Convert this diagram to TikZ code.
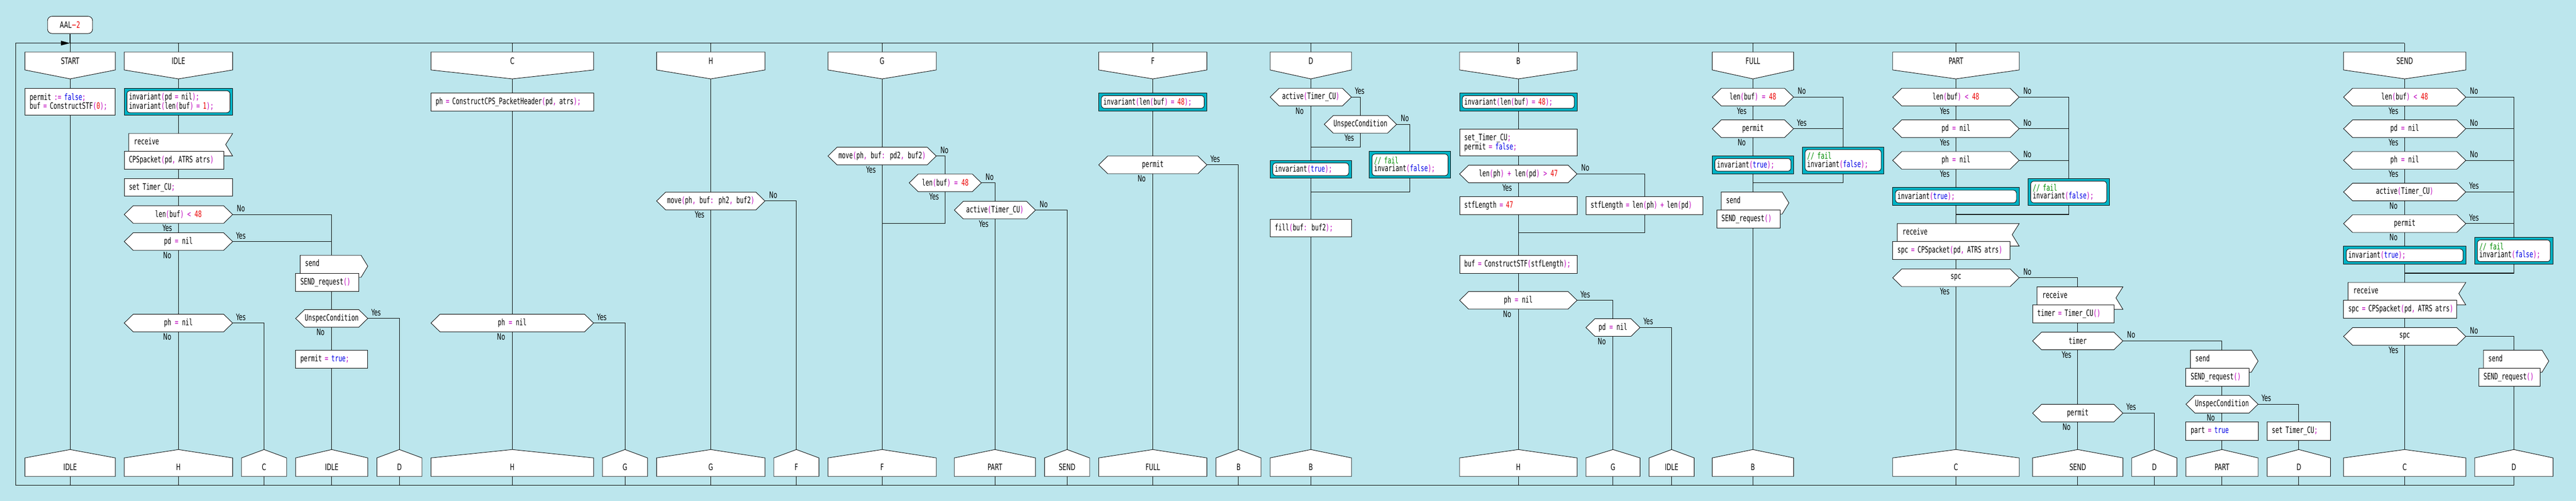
\documentclass[tikz,border=0pt]{standalone}
\usepackage{fontspec}
\usetikzlibrary{calc,arrows.meta}
\newfontfamily\dkcode[FakeStretch=0.677]{DejaVu Sans Mono}
\newfontfamily\dksans[FakeStretch=0.677]{DejaVu Sans}
\definecolor{drakonbg}{RGB}{188,230,237}
\definecolor{invfill}{RGB}{0,180,198}
\definecolor{opc}{RGB}{190,0,190}
\definecolor{kwc}{RGB}{0,0,230}
\definecolor{numc}{RGB}{235,0,0}
\definecolor{cmtc}{RGB}{0,140,0}
\newcommand\opr[1]{\textcolor{opc}{#1}}
\newcommand\kw[1]{\textcolor{kwc}{#1}}
\newcommand\nmb[1]{\textcolor{numc}{#1}}
\newcommand\cmt[1]{\textcolor{cmtc}{#1}}
\pgfdeclarelayer{bg}
\pgfdeclarelayer{wires}
\pgfsetlayers{bg,wires,main}

\tikzset{
  shp/.style={draw=black, fill=white, line width=1pt},
  wire/.style={draw=black, line width=1.2pt},
  codetxt/.style={font=\dkcode\fontsize{19.5}{16.3}\selectfont, inner sep=0pt, text=black},
  lbltxt/.style={font=\dksans\fontsize{19.5}{23}\selectfont, inner sep=0pt, text=black},
  boxtxt/.style={codetxt, inner xsep=10.5pt, align=left},
  flowlbl/.style={lbltxt, anchor=base},
}

% header: name, left, right, text
\newcommand\hdr[4]{%
  \pgfmathsetmacro\dkx{((#2)+(#3))/2}%
  \pgfmathsetmacro\dkw{(#3)-(#2)}%
  \filldraw[shp] (#2,54.3) -- (#3,54.3) -- (#3,73) -- (\dkx,82.3) -- (#2,73) -- cycle;
  \node[lbltxt, minimum width=\dkw pt, minimum height=39.7pt] (#1) at (\dkx,63.65) {#4};}
% address at the foot of a branch
\newcommand\ftr[4]{%
  \pgfmathsetmacro\dkx{((#2)+(#3))/2}%
  \pgfmathsetmacro\dkw{(#3)-(#2)}%
  \filldraw[shp] (#2,477.7) -- (\dkx,469) -- (#3,477.7) -- (#3,497) -- (#2,497) -- cycle;
  \node[lbltxt, minimum width=\dkw pt, minimum height=41pt] (#1) at (\dkx,487.35) {#4};}
% action: name, left, right, top, bottom, text
\newcommand\act[6]{%
  \pgfmathsetmacro\dkx{((#2)+(#3))/2}%
  \pgfmathsetmacro\dky{((#4)+(#5))/2}%
  \pgfmathsetmacro\dkw{(#3)-(#2)}%
  \pgfmathsetmacro\dkt{(#3)-(#2)-21}%
  \pgfmathsetmacro\dkh{((#5)-(#4))*2.1237}%
  \node[shp, boxtxt, minimum width=\dkw pt, minimum height=\dkh pt, text width=\dkt pt] (#1) at (\dkx,\dky) {#6};}
% invariant box
\newcommand\inv[6]{%
  \filldraw[shp, fill=invfill] (#2,#4) rectangle (#3,#5);
  \filldraw[shp, rounded corners=7pt] ({(#2)+6},{(#4)+2.7}) rectangle ({(#3)-6},{(#5)-2.7});
  \pgfmathsetmacro\dkx{((#2)+(#3))/2}%
  \pgfmathsetmacro\dky{((#4)+(#5))/2}%
  \pgfmathsetmacro\dkw{(#3)-(#2)}%
  \pgfmathsetmacro\dkt{(#3)-(#2)-21}%
  \pgfmathsetmacro\dkh{((#5)-(#4))*2.1237}%
  \node[boxtxt, minimum width=\dkw pt, minimum height=\dkh pt, text width=\dkt pt] (#1) at (\dkx,\dky) {#6};}
% question: name, left, right, middle, text, label below, label right
\newcommand\quest[7]{%
  \pgfmathsetmacro\dkx{((#2)+(#3))/2}%
  \pgfmathsetmacro\dkw{(#3)-(#2)}%
  \pgfmathsetmacro\dka{(#2)+20}%
  \pgfmathsetmacro\dkb{(#3)-20}%
  \pgfmathsetmacro\dku{(#4)-9.2}%
  \pgfmathsetmacro\dkv{(#4)+9.2}%
  \filldraw[shp] (#2,#4) -- (\dka,\dku) -- (\dkb,\dku) -- (#3,#4) -- (\dkb,\dkv) -- (\dka,\dkv) -- cycle;
  \node[codetxt, minimum width=\dkw pt, minimum height=39.1pt] (#1) at (\dkx,#4) {#5};
  \node[flowlbl] (#1-d) at ($(#1.south)+(-24.8,8.3)$) {#6};
  \node[flowlbl] (#1-r) at ($(#1.east)+(18,-3)$) {#7};}
% receive: name, left, right, top, text
\newcommand\recv[5]{%
  \pgfmathsetmacro\dka{(#2)+10}%
  \pgfmathsetmacro\dkb{(#3)-15.5}%
  \pgfmathsetmacro\dku{(#4)+11.5}%
  \pgfmathsetmacro\dkv{(#4)+23.4}%
  \filldraw[shp] (\dka,#4) -- (#3,#4) -- (\dkb,\dku) -- (#3,\dkv) -- (\dka,\dkv) -- cycle;
  \node[codetxt, anchor=base west] (#1-h) at ({(#2)+21.4},{(#4)+11.7}) {receive};
  \act{#1}{#2}{(#3)-20}{(#4)+18.7}{(#4)+37.4}{#5}}
% send: name, left, tip, top, text
\newcommand\send[5]{%
  \pgfmathsetmacro\dka{(#2)+10}%
  \pgfmathsetmacro\dkb{(#3)-15}%
  \pgfmathsetmacro\dku{(#4)+11.4}%
  \pgfmathsetmacro\dkv{(#4)+23}%
  \filldraw[shp] (\dka,#4) -- (\dkb,#4) -- (#3,\dku) -- (\dkb,\dkv) -- (\dka,\dkv) -- cycle;
  \node[codetxt, anchor=base west] (#1-h) at ({(#2)+20.7},{(#4)+11.7}) {send};
  \act{#1}{#2}{(#3)-19.6}{(#4)+19}{(#4)+37.7}{#5}}

\begin{document}
\begin{tikzpicture}[x=1pt, y=-2.1237pt]
	\begin{pgfonlayer}{bg}
		\fill[drakonbg] (0,0) rectangle (5710,522.68);
	\end{pgfonlayer}
	\useasboundingbox (0,0) rectangle (5710,522.68);

	\coordinate (lt) at (35,45);
	\coordinate (lb) at (35,506.3);

	\node[shp, lbltxt, rounded corners=10pt, minimum width=100pt, minimum height=38.2pt] (aal) at (155.3,26) {AAL\nmb{−2}};

	% START
	\hdr{hStart}{55.3}{255.7}{START}
	\act{s1}{55.3}{255.7}{92}{120.3}{\mbox{permit \opr{:=} \kw{false}\opr{;}}\\\mbox{buf \opr{=} ConstructSTF\opr{(}\nmb{0}\opr{);}}}
	\ftr{eIdle1}{55.3}{255.7}{IDLE}

	% IDLE
	\hdr{hIdle}{275.3}{515.7}{IDLE}
	\inv{i1}{275.3}{515.7}{92}{120.3}{\mbox{invariant\opr{(}pd \opr{=} nil\opr{);}}\\\mbox{invariant\opr{(}len\opr{(}buf\opr{)} \opr{=} \nmb{1}\opr{);}}}
	\recv{r1}{275.3}{515.7}{139.3}{\mbox{CPSpacket\opr{(}pd\opr{,} ATRS atrs\opr{)}}}
	\act{a2}{275.3}{515.7}{186.3}{204.7}{\mbox{set Timer\_CU\opr{;}}}
	\quest{q1}{275.3}{515.7}{223.8}{len\opr{(}buf\opr{)} \opr{<} \nmb{48}}{Yes}{No}
	\quest{q2}{275.3}{515.7}{252}{pd \opr{=} nil}{No}{Yes}
	\quest{q3}{275.3}{515.7}{337}{ph \opr{=} nil}{No}{Yes}
	\send{o1}{655.3}{815.3}{266.3}{\mbox{SEND\_request\opr{()}}}
	\quest{q4}{655.3}{815.3}{332.2}{UnspecCondition}{No}{Yes}
	\act{a3}{655.3}{815.3}{365.3}{384}{\mbox{permit \opr{=} \kw{true}\opr{;}}}
	\ftr{eH2}{275.3}{515.7}{H}
	\ftr{eC2}{535.3}{635.3}{C}
	\ftr{eIdle2}{655.3}{815.3}{IDLE}
	\ftr{eD2}{835.3}{935.3}{D}

	% C
	\hdr{hC}{955.3}{1315.7}{C}
	\act{a4}{955.3}{1315.7}{97}{115.7}{\mbox{ph \opr{=} ConstructCPS\_PacketHeader\opr{(}pd\opr{,} atrs\opr{);}}}
	\quest{q5}{955.3}{1315.7}{337}{ph \opr{=} nil}{No}{Yes}
	\ftr{eH3}{955.3}{1315.7}{H}
	\ftr{eG3}{1335.3}{1435.3}{G}

	% H
	\hdr{hH}{1455.3}{1695.7}{H}
	\quest{q6}{1455.3}{1695.7}{209.7}{move\opr{(}ph\opr{,} buf\opr{:} ph2\opr{,} buf2\opr{)}}{Yes}{No}
	\ftr{eG4}{1455.3}{1695.7}{G}
	\ftr{eF4}{1715.3}{1815.3}{F}

	% G
	\hdr{hG}{1835.3}{2075.3}{G}
	\quest{q7}{1835.3}{2075.3}{162.8}{move\opr{(}ph\opr{,} buf\opr{:} pd2\opr{,} buf2\opr{)}}{Yes}{No}
	\quest{q8}{2015.3}{2175.3}{190.8}{len\opr{(}buf\opr{)} \opr{=} \nmb{48}}{Yes}{No}
	\quest{q9}{2115.3}{2295.3}{219.2}{active\opr{(}Timer\_CU\opr{)}}{Yes}{No}
	\ftr{eF5}{1835.3}{2075.3}{F}
	\ftr{ePart5}{2115.3}{2295.3}{PART}
	\ftr{eSend5}{2315.3}{2415.3}{SEND}

	% F
	\hdr{hF}{2435.3}{2675.3}{F}
	\inv{i2}{2435.3}{2675.3}{97}{115.7}{\mbox{invariant\opr{(}len\opr{(}buf\opr{)} \opr{=} \nmb{48}\opr{);}}}
	\quest{q10}{2435.3}{2675.3}{172}{permit}{No}{Yes}
	\ftr{eFull6}{2435.3}{2675.3}{FULL}
	\ftr{eB6}{2695.3}{2795.3}{B}

	% D
	\hdr{hD}{2815.3}{2995.7}{D}
	\quest{q11}{2815.3}{2995.7}{101.3}{active\opr{(}Timer\_CU\opr{)}}{No}{Yes}
	\quest{q12}{2935.3}{3095.7}{129.7}{UnspecCondition}{Yes}{No}
	\inv{i3}{2815.3}{2995.7}{167.3}{186}{\mbox{invariant\opr{(}\kw{true}\opr{);}}}
	\inv{f1}{3035.3}{3215.7}{158}{186}{\mbox{\cmt{// fail}}\\\mbox{invariant\opr{(}\kw{false}\opr{);}}}
	\act{a5}{2815.3}{2995.7}{228.7}{247.3}{\mbox{fill\opr{(}buf\opr{:} buf2\opr{);}}}
	\ftr{eB7}{2815.3}{2995.7}{B}

	% B
	\hdr{hB}{3235.3}{3495.7}{B}
	\inv{i4}{3235.3}{3495.7}{97}{115.7}{\mbox{invariant\opr{(}len\opr{(}buf\opr{)} \opr{=} \nmb{48}\opr{);}}}
	\act{a6}{3235.3}{3495.7}{134.7}{162.7}{\mbox{set\_Timer\_CU\opr{;}}\\\mbox{permit \opr{=} \kw{false}\opr{;}}}
	\quest{q13}{3235.3}{3495.7}{181.5}{len\opr{(}ph\opr{)} \opr{+} len\opr{(}pd\opr{)} \opr{>} \nmb{47}}{Yes}{No}
	\act{a7}{3235.3}{3495.7}{205}{223.7}{\mbox{stfLength \opr{=} \nmb{47}}}
	\act{a8}{3515.3}{3775.3}{205}{223.7}{\mbox{stfLength \opr{=} len\opr{(}ph\opr{)} \opr{+} len\opr{(}pd\opr{)}}}
	\act{a9}{3235.3}{3495.7}{266.3}{285}{\mbox{buf \opr{=} ConstructSTF\opr{(}stfLength\opr{);}}}
	\quest{q14}{3235.3}{3495.7}{313.3}{ph \opr{=} nil}{No}{Yes}
	\quest{q15}{3515.3}{3635.3}{341.7}{pd \opr{=} nil}{No}{Yes}
	\ftr{eH8}{3235.3}{3495.7}{H}
	\ftr{eG8}{3515.3}{3635.3}{G}
	\ftr{eIdle8}{3655.3}{3755.3}{IDLE}

	% FULL
	\hdr{hFull}{3795.3}{3975.7}{FULL}
	\quest{q16}{3795.3}{3975.7}{101.3}{len\opr{(}buf\opr{)} \opr{=} \nmb{48}}{Yes}{No}
	\quest{q17}{3795.3}{3975.7}{134.3}{permit}{No}{Yes}
	\inv{i5}{3795.3}{3975.7}{162.7}{181.3}{\mbox{invariant\opr{(}\kw{true}\opr{);}}}
	\inv{f2}{3995.3}{4175.7}{153.3}{181.3}{\mbox{\cmt{// fail}}\\\mbox{invariant\opr{(}\kw{false}\opr{);}}}
	\send{o2}{3805.3}{3965.3}{200.3}{\mbox{SEND\_request\opr{()}}}
	\ftr{eB9}{3795.3}{3975.7}{B}

	% PART
	\hdr{hPart}{4195.3}{4475.7}{PART}
	\quest{q18}{4195.3}{4475.7}{101.3}{len\opr{(}buf\opr{)} \opr{<} \nmb{48}}{Yes}{No}
	\quest{q19}{4195.3}{4475.7}{134.3}{pd \opr{=} nil}{Yes}{No}
	\quest{q20}{4195.3}{4475.7}{167.3}{ph \opr{=} nil}{Yes}{No}
	\inv{i6}{4195.3}{4475.7}{195.7}{214.3}{\mbox{invariant\opr{(}\kw{true}\opr{);}}}
	\inv{f3}{4495.3}{4675.7}{186.3}{214.3}{\mbox{\cmt{// fail}}\\\mbox{invariant\opr{(}\kw{false}\opr{);}}}
	\recv{r2}{4195.3}{4475.7}{233.3}{\mbox{spc \opr{=} CPSpacket\opr{(}pd\opr{,} ATRS atrs\opr{)}}}
	\quest{q21}{4195.3}{4475.7}{289.8}{spc}{Yes}{No}
	\recv{r3}{4505.3}{4705.7}{299.3}{\mbox{timer \opr{=} Timer\_CU\opr{()}}}
	\quest{q22}{4505.3}{4705.7}{355.7}{timer}{Yes}{No}
	\quest{q23}{4505.3}{4705.7}{431}{permit}{No}{Yes}
	\send{o3}{4845.3}{5005.3}{365.3}{\mbox{SEND\_request\opr{()}}}
	\quest{q24}{4845.3}{5005.3}{421.7}{UnspecCondition}{No}{Yes}
	\act{a10}{4845.3}{5005.3}{440.3}{459.3}{\mbox{part \opr{=} \kw{true}}}
	\act{a11}{5025.3}{5165.7}{440.3}{459.3}{\mbox{set Timer\_CU\opr{;}}}
	\ftr{eC10}{4195.3}{4475.7}{C}
	\ftr{eSend10}{4505.3}{4705.7}{SEND}
	\ftr{eD10}{4725.3}{4825.3}{D}
	\ftr{ePart10}{4845.3}{5005.3}{PART}
	\ftr{eD10b}{5025.3}{5165.7}{D}

	% SEND
	\hdr{hSend}{5194.7}{5465.7}{SEND}
	\quest{q25}{5194.7}{5465.7}{101.3}{len\opr{(}buf\opr{)} \opr{<} \nmb{48}}{Yes}{No}
	\quest{q26}{5194.7}{5465.7}{134.3}{pd \opr{=} nil}{Yes}{No}
	\quest{q27}{5194.7}{5465.7}{167.3}{ph \opr{=} nil}{Yes}{No}
	\quest{q28}{5194.7}{5465.7}{200.3}{active\opr{(}Timer\_CU\opr{)}}{No}{Yes}
	\quest{q29}{5194.7}{5465.7}{233.3}{permit}{No}{Yes}
	\inv{i7}{5194.7}{5465.7}{257}{275.7}{\mbox{invariant\opr{(}\kw{true}\opr{);}}}
	\inv{f4}{5485.3}{5659}{247.7}{275.7}{\mbox{\cmt{// fail}}\\\mbox{invariant\opr{(}\kw{false}\opr{);}}}
	\recv{r4}{5194.7}{5465.7}{294.7}{\mbox{spc \opr{=} CPSpacket\opr{(}pd\opr{,} ATRS atrs\opr{)}}}
	\quest{q30}{5194.7}{5465.7}{351}{spc}{Yes}{No}
	\send{o4}{5494.7}{5649.7}{365.3}{\mbox{SEND\_request\opr{()}}}
	\ftr{eC11}{5194.7}{5465.7}{C}
	\ftr{eD11}{5485.3}{5659}{D}

	% merge points
	\coordinate (m1) at (1955.3,233.3);
	\coordinate (m2) at (2905.5,153.3);
	\coordinate (m3) at (2905.5,200.3);
	\coordinate (m4) at (3365.5,242.7);
	\coordinate (m5) at (3885.5,190.7);
	\coordinate (m6) at (4335.5,223.7);
	\coordinate (m7) at (5330.2,285);

	\begin{pgfonlayer}{wires}
	\draw[wire, -{Triangle[length=20pt,width=10pt]}] (lb) -- (lt) -- (aal.south |- lt);
	\draw[wire] (aal.south) -- (aal.south |- lt) -- (hSend.north |- lt);
	\draw[wire] (lb) -- (eD11.south |- lb);
	\foreach \hh/\ee in {hStart/eIdle1, hIdle/eH2, hC/eH3, hH/eG4, hG/eF5, hF/eFull6, hD/eB7, hB/eH8, hFull/eB9, hPart/eC10, hSend/eC11}
		\draw[wire] (\hh.north |- lt) -- (\ee.south |- lb);

	\draw[wire] (q1.east) -| (eIdle2.south |- lb);
	\draw[wire] (q2.east) -- (q2.east -| eIdle2.north);
	\draw[wire] (q3.east) -| (eC2.south |- lb);
	\draw[wire] (q4.east) -| (eD2.south |- lb);
	\draw[wire] (q5.east) -| (eG3.south |- lb);
	\draw[wire] (q6.east) -| (eF4.south |- lb);
	\draw[wire] (q7.east) -| (q8.north);
	\draw[wire] (q8.south) |- (m1);
	\draw[wire] (q8.east) -| (q9.north);
	\draw[wire] (q9.south) -- (ePart5.south |- lb);
	\draw[wire] (q9.east) -| (eSend5.south |- lb);
	\draw[wire] (q10.east) -| (eB6.south |- lb);
	\draw[wire] (q11.east) -| (q12.north);
	\draw[wire] (q12.south) |- (m2);
	\draw[wire] (q12.east) -| (f1.north);
	\draw[wire] (f1.south) |- (m3);
	\draw[wire] (q13.east) -| (a8.north);
	\draw[wire] (a8.south) |- (m4);
	\draw[wire] (q14.east) -| (q15.north);
	\draw[wire] (q15.south) -- (eG8.south |- lb);
	\draw[wire] (q15.east) -| (eIdle8.south |- lb);
	\draw[wire] (q16.east) -| (f2.north);
	\draw[wire] (q17.east) -- (q17.east -| f2.north);
	\draw[wire] (f2.south) |- (m5);
	\draw[wire] (q18.east) -| (f3.north);
	\foreach \qq in {q19,q20}
		\draw[wire] (\qq.east) -- (\qq.east -| f3.north);
	\draw[wire] (f3.south) |- (m6);
	\draw[wire] (q21.east) -| (eSend10.south |- lb);
	\draw[wire] (q22.east) -| (ePart10.south |- lb);
	\draw[wire] (q23.east) -| (eD10.south |- lb);
	\draw[wire] (q24.east) -| (eD10b.south |- lb);
	\draw[wire] (q25.east) -| (f4.north);
	\foreach \qq in {q26,q27,q28,q29}
		\draw[wire] (\qq.east) -- (\qq.east -| f4.north);
	\draw[wire] (f4.south) |- (m7);
	\draw[wire] (q30.east) -| (eD11.south |- lb);
	\end{pgfonlayer}
\end{tikzpicture}
\end{document}
